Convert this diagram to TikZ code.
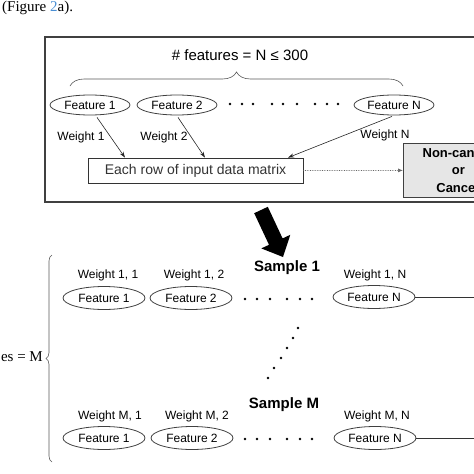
\documentclass[tikz,border=0pt]{standalone}
\usepackage{fontspec}
\setmainfont{Liberation Sans}
\newfontfamily\timesfont{Liberation Serif}
\usetikzlibrary{arrows.meta,decorations.pathreplacing,shapes.geometric}
\definecolor{boxgray}{HTML}{E6E6E6}
\definecolor{linegray}{HTML}{404040}
\definecolor{refblue}{HTML}{4A8FD4}
\tikzset{
 feat/.style={ellipse, draw=black!75, line width=0.8pt, minimum width=80pt, minimum height=20pt, inner sep=0pt, font=\fontsize{12}{12}\selectfont},
 featb/.style={feat, minimum width=82pt, minimum height=23pt},
 wlab/.style={font=\fontsize{12}{12}\selectfont, inner sep=0pt},
 wlink/.style={-{Stealth[length=6pt,width=4pt]}, line width=0.6pt, black!85},
 dotmark/.style={circle, fill=black, inner sep=0pt, minimum size=2.8pt},
 sample/.style={font=\bfseries\fontsize{15}{15}\selectfont, inner sep=0pt},
 bracestyle/.style={decorate, black!65, line width=0.6pt},
 rowline/.style={line width=0.8pt, black!80},
}
\begin{document}
\begin{tikzpicture}[x=1pt,y=-1pt]
\useasboundingbox (0,0) rectangle (474,474);
\clip (0,0) rectangle (474,474);

% caption fragment
\node[anchor=base west, inner sep=0pt, font=\timesfont\fontsize{15}{15}\selectfont] (fig) at (2,11.5) {(Figure \textcolor{refblue}{2}a).};

% outer frame
\draw[linegray, line width=1.8pt] (490,37) -- (45,37) -- (45,202) -- (490,202);

% title and brace
\node[font=\fontsize{15}{15}\selectfont, inner sep=0pt] (title) at (240,55) {\# features = N ≤ 300};
\draw[bracestyle, decoration={brace, amplitude=14pt}] (70,86) -- (403,86);

% top features
\node[feat] (f1) at (90,105) {Feature 1};
\node[feat] (f2) at (177,105) {Feature 2};
\node[feat] (fn) at (394,105) {Feature N};
\foreach \x in {230,242,253,272,283,297,315,327,338}
  \node[dotmark] at (\x,104) {};

\node[wlab] (w1) at (81,137) {Weight 1};
\node[wlab] (w2) at (164,137) {Weight 2};
\node[wlab] (wn) at (385,135) {Weight N};

\node[draw, rowline, minimum width=215pt, minimum height=25pt, inner sep=0pt, font=\fontsize{14}{14}\selectfont] (row) at (195.5,170.5) {Each row of input data matrix};

\draw[wlink] ([xshift=7pt,yshift=-2pt]f1.south) -- ([xshift=-70.5pt]row.north);
\draw[wlink] ([xshift=1pt,yshift=-2pt]f2.south) -- ([xshift=9.5pt]row.north);
\draw[wlink] ([xshift=-2pt,yshift=-1pt]fn.south) -- ([xshift=92.5pt]row.north);

\node[draw=linegray, fill=boxgray, line width=0.8pt, anchor=north west, minimum width=110pt, minimum height=54pt, inner sep=0pt, align=center, font=\bfseries\fontsize{13}{17.5}\selectfont] (res) at (403,143) {Non-cancer\\or\\Cancer};

\draw[densely dotted, black!60, line width=0.7pt, -{Latex[length=5pt,width=4pt]}] (row.east) -- (res.west);

% big arrow
\fill[black] (267.8,206.8) -- (254.2,213.2) -- (269,244.8) -- (261.3,248.4) -- (283,257) -- (290.3,234.8) -- (282.6,238.4) -- cycle;

% sample 1
\node[sample] (s1) at (287,268) {Sample 1};
\node[wlab] (w11) at (108,275) {Weight 1, 1};
\node[wlab] (w12) at (194,275) {Weight 1, 2};
\node[wlab] (w1n) at (375,275) {Weight 1, N};
\node[featb] (g11) at (104,298) {Feature 1};
\node[featb] (g12) at (191,298) {Feature 2};
\node[featb] (g1n) at (374,297) {Feature N};
\foreach \x in {245,257,270,287,300,312}
  \node[dotmark] at (\x,299) {};
\coordinate (e1) at (480,297);
\draw[rowline] (g1n.east) -- (e1);

% vertical ellipsis
\foreach \p in {(298,328),(293,338),(287,348),(281,358),(274,368),(268,378)}
  \node[dotmark] at \p {};

% sample M
\node[sample] (sm) at (284,405) {Sample M};
\node[wlab] (wm1) at (110,416) {Weight M, 1};
\node[wlab] (wm2) at (197,416) {Weight M, 2};
\node[wlab] (wmn) at (377,416) {Weight M, N};
\node[featb] (gm1) at (104,438) {Feature 1};
\node[featb] (gm2) at (192,438) {Feature 2};
\node[featb] (gmn) at (375,438) {Feature N};
\foreach \x in {245,257,270,287,300,312}
  \node[dotmark] at (\x,439) {};
\coordinate (em) at (480,438);
\draw[rowline] (gmn.east) -- (em);

% left brace
\draw[bracestyle, decoration={brace, amplitude=6pt}] (52,462) -- (52,255);
\node[anchor=east, inner sep=0pt, font=\timesfont\fontsize{15}{15}\selectfont] (msamp) at (43,357) {es = M};

\end{tikzpicture}
\end{document}
